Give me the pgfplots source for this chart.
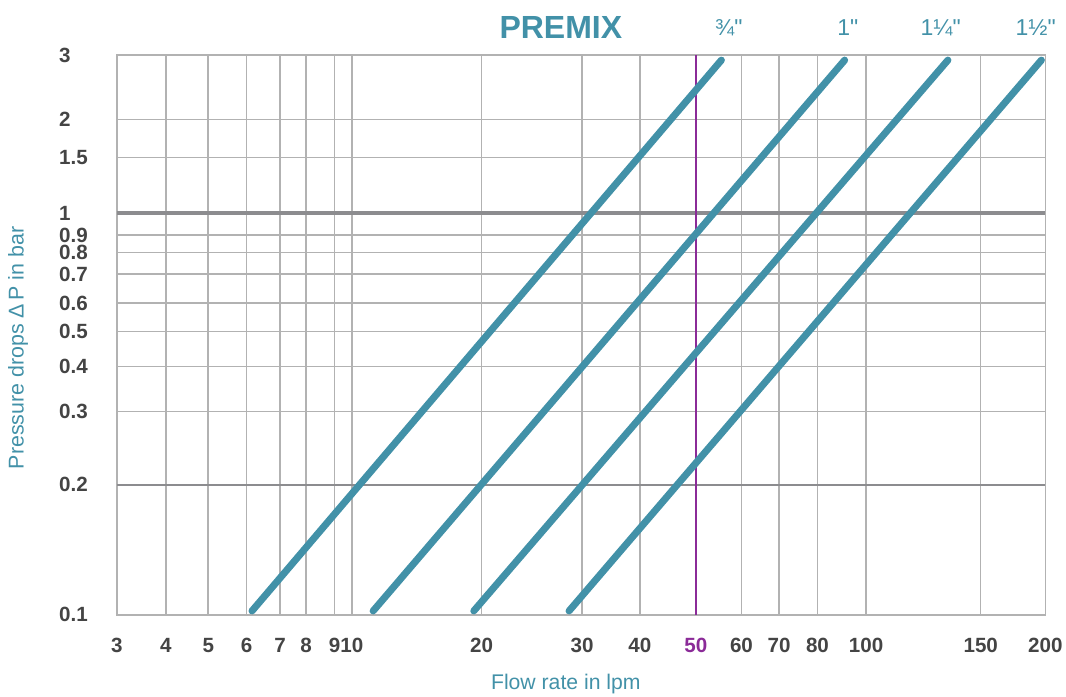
\documentclass[border=0pt]{standalone}
\usepackage{fontspec}
\setmainfont{Liberation Sans}
\newfontfamily\sizefont[Ligatures=TeXOff]{Liberation Sans}
\usepackage{pgfplots}
\pgfplotsset{compat=1.18}
\definecolor{premixteal}{RGB}{66,145,168}
\definecolor{tickgray}{RGB}{68,68,68}
\definecolor{gridgray}{RGB}{178,178,178}
\definecolor{thickgray}{RGB}{140,140,143}
\definecolor{purp}{RGB}{139,43,152}
\begin{document}
\begin{tikzpicture}
\useasboundingbox (-58.5pt,-41pt) rectangle (474.65pt,307.5pt);
\begin{axis}[
  at={(0pt,0pt)}, anchor=south west,
  scale only axis, width=464.35pt, height=280pt,
  x coord trafo/.code={\pgfmathparse{(#1<=4) ? (49*(#1-3)) : ((#1<=5) ? (49+42.3*(#1-4)) : ((#1<=6) ? (91.3+38.4*(#1-5)) : ((#1<=7) ? (129.7+33.6*(#1-6)) : ((#1<=8) ? (163.3+26*(#1-7)) : ((#1<=9) ? (189.3+28.4*(#1-8)) : ((#1<=10) ? (217.7+17.3*(#1-9)) : ((#1<=20) ? (235+12.97*(#1-10)) : ((#1<=30) ? (364.7+10.06*(#1-20)) : ((#1<=40) ? (465.3+5.77*(#1-30)) : ((#1<=50) ? (523+5.6*(#1-40)) : ((#1<=60) ? (579+4.57*(#1-50)) : ((#1<=70) ? (624.7+3.76*(#1-60)) : ((#1<=80) ? (662.3+3.84*(#1-70)) : ((#1<=100) ? (700.7+2.43*(#1-80)) : ((#1<=150) ? (749.3+2.294*(#1-100)) : (864+1.294*(#1-150)))))))))))))))))}},
  y coord trafo/.code={\pgfmathparse{(#1<=0.2) ? (1300*(#1-0.1)) : ((#1<=0.3) ? (130+733*(#1-0.2)) : ((#1<=0.4) ? (203.3+450*(#1-0.3)) : ((#1<=0.5) ? (248.3+352*(#1-0.4)) : ((#1<=0.6) ? (283.5+282*(#1-0.5)) : ((#1<=0.7) ? (311.7+290*(#1-0.6)) : ((#1<=0.8) ? (340.7+216*(#1-0.7)) : ((#1<=0.9) ? (362.3+174*(#1-0.8)) : ((#1<=1) ? (379.7+220*(#1-0.9)) : ((#1<=1.5) ? (401.7+111.2*(#1-1)) : ((#1<=2) ? (457.3+76.8*(#1-1.5)) : (495.7+64.3*(#1-2))))))))))))}},
  xmin=3, xmax=200, ymin=0.1, ymax=3,
  enlargelimits=false, clip=false,
  xtick={3,4,5,6,7,8,9,10,20,30,40,50,60,70,80,100,150,200},
  xticklabels={3,4,5,6,7,8,9,10,20,30,40,\textcolor{purp}{50},60,70,80,100,150,200},
  ytick={0.1,0.2,0.3,0.4,0.5,0.6,0.7,0.8,0.9,1,1.5,2,3},
  yticklabels={0.1,0.2,0.3,0.4,0.5,0.6,0.7,0.8,0.9,1,1.5,2,3},
  grid=major, major grid style={gridgray, line width=0.75pt},
  axis line style={gridgray, line width=0.75pt},
  major tick length=0pt,
  tick label style={font=\fontsize{10.3}{11}\selectfont\bfseries, text=tickgray, inner sep=0pt},
  xticklabel style={yshift=-11.4pt},
  yticklabel style={anchor=west, xshift=-29.1pt},
]
\addplot[thickgray, line width=1.1pt] coordinates {(3,0.2) (200,0.2)};
\addplot[thickgray, line width=2pt] coordinates {(3,1) (200,1)};
\addplot[purp, line width=1.2pt] coordinates {(50,0.1) (50,3)};
\addplot[premixteal, line width=3.5pt, line cap=round] coordinates {(6.16,0.103) (55.6,2.92)};
\addplot[premixteal, line width=3.5pt, line cap=round] coordinates {(11.64,0.103) (91.2,2.92)};
\addplot[premixteal, line width=3.5pt, line cap=round] coordinates {(19.4,0.103) (135.7,2.92)};
\addplot[premixteal, line width=3.5pt, line cap=round] coordinates {(28.7,0.103) (196.9,2.92)};
\end{axis}
\node[font=\fontsize{16}{16}\selectfont\bfseries, text=premixteal] at (222pt,293.5pt) {PREMIX};
\node[font=\sizefont\fontsize{11.5}{12}\selectfont, text=premixteal] at (306pt,293.75pt) {¾"};
\node[font=\sizefont\fontsize{11.5}{12}\selectfont, text=premixteal] at (365.5pt,293.75pt) {1"};
\node[font=\sizefont\fontsize{11.5}{12}\selectfont, text=premixteal] at (412pt,293.75pt) {1¼"};
\node[font=\sizefont\fontsize{11.5}{12}\selectfont, text=premixteal] at (459.5pt,293.75pt) {1½"};
\node[font=\fontsize{10.6}{11}\selectfont, text=premixteal] at (224.5pt,-34.5pt) {Flow rate in lpm};
\node[font=\fontsize{10.7}{11}\selectfont, text=premixteal, rotate=90] at (-49.5pt,133.5pt) {Pressure drops Δ\,P in bar};
\end{tikzpicture}
\end{document}
